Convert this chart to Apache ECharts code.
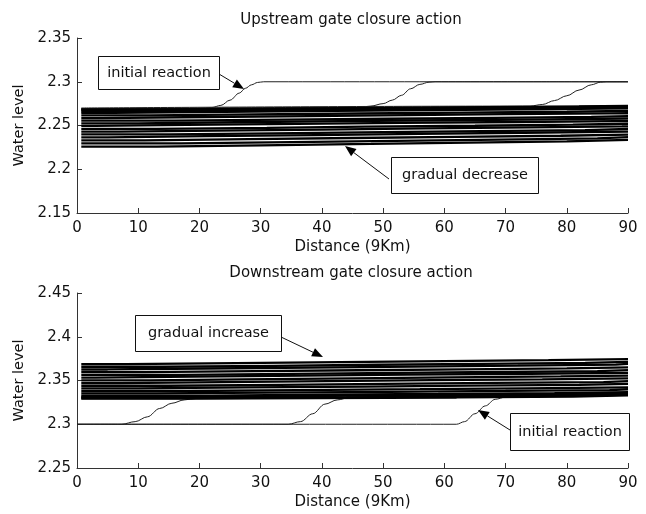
<!DOCTYPE html>
<html><head><meta charset="utf-8">
<script src="https://cdn.jsdelivr.net/npm/echarts@6/dist/echarts.min.js"></script>
<style>html,body{margin:0;padding:0;background:#fff}#c{width:646px;height:514px}</style>
</head><body><div id="c"></div>
<script>
// ---------- DATA ----------
const titles = ['Upstream gate closure action', 'Downstream gate closure action'];
const xName = 'Distance (9Km)';
const yName = 'Water level';
const xRange = [0, 90, 10];
const yRangeUp = [2.15, 2.35, 0.05];
const yRangeDown = [2.25, 2.45, 0.05];

// Upstream: stepped water-level profiles (band), [distance, level]
const upBand = [
  [[0.7,2.2685],[14,2.2693],[33,2.2701],[49,2.2709],[67,2.2717],[82,2.2725],[90,2.2725]],
  [[0.7,2.2675],[9,2.2683],[27,2.2692],[44,2.2700],[61,2.2709],[76,2.2717],[90,2.2717]],
  [[0.7,2.2662],[19,2.2672],[37,2.2683],[55,2.2694],[71,2.2704],[86,2.2708],[90,2.2708]],
  [[0.7,2.2645],[6,2.2656],[24,2.2666],[42,2.2677],[58,2.2688],[78,2.2697],[90,2.2697]],
  [[0.7,2.2615],[12,2.2626],[29,2.2637],[46,2.2647],[63,2.2657],[80,2.2666],[90,2.2666]],
  [[0.7,2.2585],[4,2.2597],[21,2.2608],[38,2.2619],[54,2.2629],[70,2.2638],[87,2.2640],[90,2.2640]],
  [[0.7,2.2555],[16,2.2566],[34,2.2577],[51,2.2588],[68,2.2598],[84,2.2608],[90,2.2608]],
  [[0.7,2.2525],[10,2.2537],[26,2.2549],[43,2.2560],[60,2.2570],[77,2.2580],[90,2.2580]],
  [[0.7,2.2495],[3,2.2506],[18,2.2518],[36,2.2529],[53,2.2540],[72,2.2550],[88,2.2551],[90,2.2551]],
  [[0.7,2.2462],[13,2.2474],[31,2.2486],[47,2.2497],[65,2.2509],[81,2.2520],[90,2.2520]],
  [[0.7,2.2430],[7,2.2442],[23,2.2454],[40,2.2466],[57,2.2478],[74,2.2489],[89,2.2490],[90,2.2490]],
  [[0.7,2.2398],[15,2.2411],[32,2.2424],[50,2.2436],[66,2.2448],[83,2.2460],[90,2.2460]],
  [[0.7,2.2365],[5,2.2378],[21,2.2391],[39,2.2404],[56,2.2417],[73,2.2429],[90,2.2429]],
  [[0.7,2.2330],[11,2.2344],[28,2.2357],[45,2.2370],[62,2.2383],[79,2.2396],[90,2.2396]],
  [[0.7,2.2295],[17,2.2310],[35,2.2324],[52,2.2338],[69,2.2352],[85,2.2366],[90,2.2366]],
  [[0.7,2.2258],[13,2.2273],[30,2.2289],[48,2.2304],[64,2.2318],[80,2.2336],[90,2.2336]]
];
// Upstream: initial reaction profiles
const upReaction1 = [[0.7,2.2690],[20,2.2695],[22,2.2705],[23.5,2.2730],[25,2.2790],[26.5,2.2870],[27.5,2.2925],[28.5,2.2965],[29.5,2.2992],[30.5,2.3000],[90,2.3000]];
const upReaction2 = [[0.7,2.2690],[46,2.2708],[48,2.2722],[50,2.2750],[51.5,2.2790],[53,2.2845],[54.5,2.2920],[56,2.2970],[57.5,2.2995],[58.5,2.3000],[90,2.3000]];
const upReaction3 = [[0.7,2.2700],[74,2.2722],[76,2.2740],[78,2.2785],[80,2.2840],[82,2.2905],[84,2.2965],[85.5,2.2995],[86.5,2.3000],[90,2.3000]];

// Downstream: stepped water-level profiles (band)
const downBand = [
  [[0.7,2.3688],[8,2.3699],[26,2.3710],[43,2.3722],[60,2.3733],[77,2.3745],[90,2.3745]],
  [[0.7,2.3657],[14,2.3668],[32,2.3680],[49,2.3691],[66,2.3702],[83,2.3714],[90,2.3714]],
  [[0.7,2.3626],[5,2.3637],[21,2.3648],[38,2.3659],[55,2.3670],[72,2.3681],[88,2.3690],[90,2.3690]],
  [[0.7,2.3595],[11,2.3606],[29,2.3617],[46,2.3628],[63,2.3639],[80,2.3650],[90,2.3650]],
  [[0.7,2.3564],[17,2.3575],[35,2.3586],[52,2.3597],[69,2.3608],[85,2.3619],[90,2.3619]],
  [[0.7,2.3533],[3,2.3544],[19,2.3555],[37,2.3566],[54,2.3577],[74,2.3588],[90,2.3588]],
  [[0.7,2.3502],[12,2.3513],[27,2.3524],[45,2.3535],[61,2.3546],[79,2.3556],[90,2.3556]],
  [[0.7,2.3471],[7,2.3482],[24,2.3493],[41,2.3504],[58,2.3514],[76,2.3524],[90,2.3524]],
  [[0.7,2.3440],[15,2.3451],[33,2.3462],[50,2.3472],[68,2.3482],[86,2.3492],[90,2.3492]],
  [[0.7,2.3410],[10,2.3421],[28,2.3431],[47,2.3441],[64,2.3451],[82,2.3461],[90,2.3461]],
  [[0.7,2.3380],[18,2.3391],[36,2.3401],[56,2.3411],[73,2.3421],[90,2.3421]],
  [[0.7,2.3352],[13,2.3362],[31,2.3371],[51,2.3381],[70,2.3391],[87,2.3400],[90,2.3400]],
  [[0.7,2.3328],[22,2.3337],[40,2.3346],[59,2.3356],[78,2.3366],[90,2.3366]],
  [[0.7,2.3312],[9,2.3320],[30,2.3329],[53,2.3338],[71,2.3348],[90,2.3348]],
  [[0.7,2.3300],[20,2.3308],[44,2.3318],[64,2.3328],[84,2.3338],[90,2.3338]],
  [[0.7,2.3293],[18,2.3298],[39,2.3306],[62,2.3316],[81,2.3330],[90,2.3330]]
];
// Downstream: initial reaction profiles
const downReaction1 = [[0,2.3000],[7.3,2.3000],[9.5,2.3030],[11.5,2.3085],[13.5,2.3180],[15.5,2.3240],[17.5,2.3278],[19.5,2.3295],[22,2.3300],[90,2.3335]];
const downReaction2 = [[0,2.3000],[34.5,2.3000],[36.5,2.3030],[38.5,2.3120],[40.5,2.3230],[42.5,2.3278],[44.5,2.3305],[47,2.3310],[90,2.3338]];
const downReaction3 = [[0,2.3000],[62,2.3000],[63.3,2.3030],[65,2.3120],[66.7,2.3210],[68.3,2.3285],[70,2.3310],[72,2.3318],[90,2.3340]];

const notes = ['initial reaction', 'gradual decrease', 'gradual increase', 'initial reaction'];

// ---------- CHART ----------
const FONT = 'DejaVu Sans';
const TXT = '#111';
const AX = '#333';
const chart = echarts.init(document.getElementById('c'), null, {renderer: 'canvas'});

function fmtY(v) { return String(parseFloat(v.toFixed(2))); }

function xAxisCfg(gi) {
  return {
    gridIndex: gi, type: 'value', min: xRange[0], max: xRange[1], interval: xRange[2],
    name: xName, nameLocation: 'middle', nameGap: 27,
    nameTextStyle: {fontFamily: FONT, fontSize: 15, color: TXT},
    axisLine: {show: true, onZero: false, lineStyle: {color: AX, width: 1}},
    axisTick: {show: true, inside: true, length: 5, lineStyle: {color: AX}},
    axisLabel: {margin: 8, fontFamily: FONT, fontSize: 15, color: TXT},
    splitLine: {show: false}
  };
}
function yAxisCfg(gi, r) {
  return {
    gridIndex: gi, type: 'value', min: r[0], max: r[1], interval: r[2],
    name: yName, nameLocation: 'middle', nameGap: 40, nameRotate: 90,
    nameTextStyle: {fontFamily: FONT, fontSize: 14.5, color: TXT},
    axisLine: {show: true, onZero: false, lineStyle: {color: AX, width: 1}},
    axisTick: {show: true, inside: true, length: 5, lineStyle: {color: AX}},
    axisLabel: {margin: 6, fontFamily: FONT, fontSize: 15, color: TXT, formatter: fmtY},
    splitLine: {show: false}
  };
}
function bandSeries(lines, gi) {
  return lines.map(l => ({
    type: 'line', xAxisIndex: gi, yAxisIndex: gi, data: l, step: 'end',
    symbol: 'none', showSymbol: false, silent: true, z: 3,
    lineStyle: {color: '#000', width: 2.3}
  }));
}
function curveSeries(c, gi) {
  return {
    type: 'line', xAxisIndex: gi, yAxisIndex: gi, data: c, smooth: 0.35, smoothMonotone: 'x',
    symbol: 'none', showSymbol: false, silent: true, z: 2,
    lineStyle: {color: '#222', width: 1}
  };
}

function arrow(x0, y0, x1, y1) {
  const dx = x1 - x0, dy = y1 - y0, L = Math.hypot(dx, dy);
  const ux = dx / L, uy = dy / L, hl = 11, hw = 4.5;
  const bx = x1 - ux * hl, by = y1 - uy * hl;
  return [
    {type: 'line', shape: {x1: x0, y1: y0, x2: bx, y2: by}, style: {stroke: '#111', lineWidth: 1}, z: 10},
    {type: 'polygon', shape: {points: [[x1, y1], [bx - uy * hw, by + ux * hw], [bx + uy * hw, by - ux * hw]]},
     style: {fill: '#000'}, z: 10}
  ];
}
function box(x, y, w, h, text) {
  return [
    {type: 'rect', shape: {x: x, y: y, width: w, height: h}, style: {fill: '#fff', stroke: '#111', lineWidth: 1}, z: 10},
    {type: 'text', x: x + w / 2, y: y + h / 2, style: {text: text, font: '14.5px "DejaVu Sans"', fill: TXT, textAlign: 'center', textVerticalAlign: 'middle'}, z: 11}
  ];
}

const graphics = [].concat(
  box(98.5, 56.5, 121, 33, notes[0]), arrow(219, 74, 244, 89),
  box(391.5, 157.5, 147, 36, notes[1]), arrow(389, 179, 345, 146),
  box(135.5, 315.5, 146, 36, notes[2]), arrow(281, 337, 323, 357),
  box(510.5, 413.5, 119, 37, notes[3]), arrow(510, 430, 478, 410)
);

chart.setOption({
  animation: false,
  backgroundColor: '#fff',
  title: [
    {text: titles[0], left: 351, top: 13, textAlign: 'center', padding: 0,
     textStyle: {fontFamily: FONT, fontSize: 15, fontWeight: 'normal', color: TXT}},
    {text: titles[1], left: 351, top: 266, textAlign: 'center', padding: 0,
     textStyle: {fontFamily: FONT, fontSize: 15, fontWeight: 'normal', color: TXT}}
  ],
  grid: [
    {left: 77, top: 38, width: 551, height: 175, containLabel: false},
    {left: 77, top: 293, width: 551, height: 175, containLabel: false}
  ],
  xAxis: [xAxisCfg(0), xAxisCfg(1)],
  yAxis: [yAxisCfg(0, yRangeUp), yAxisCfg(1, yRangeDown)],
  series: [].concat(
    [curveSeries(upReaction1, 0), curveSeries(upReaction2, 0), curveSeries(upReaction3, 0)],
    bandSeries(upBand, 0),
    [curveSeries(downReaction1, 1), curveSeries(downReaction2, 1), curveSeries(downReaction3, 1)],
    bandSeries(downBand, 1)
  ),
  graphic: graphics
});
</script></body></html>
